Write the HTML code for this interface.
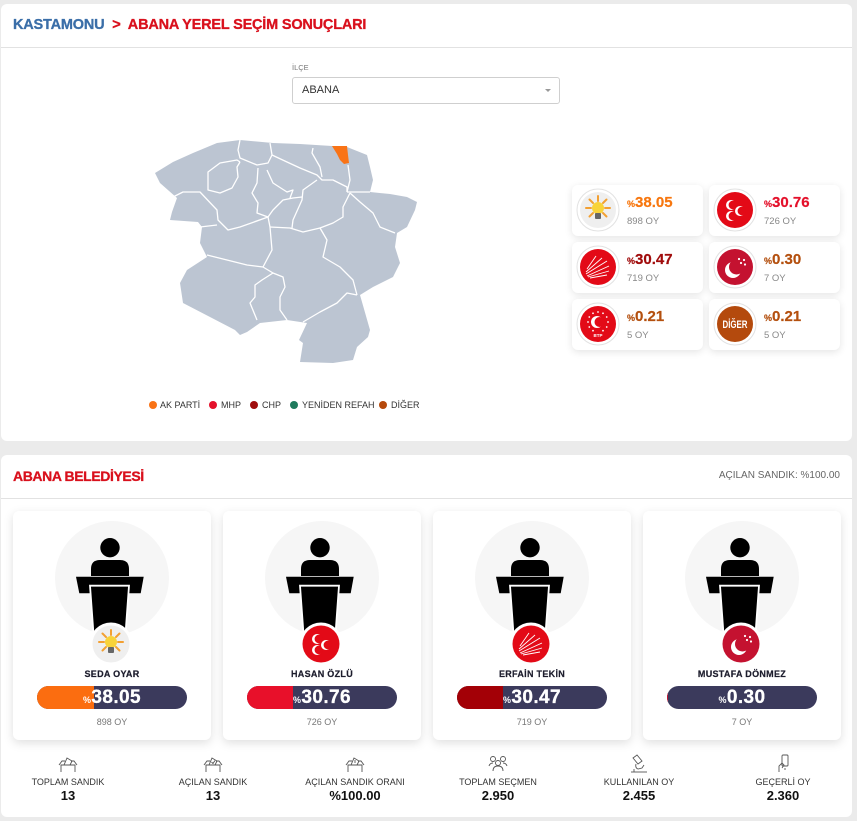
<!DOCTYPE html>
<html><head><meta charset="utf-8">
<style>
*{margin:0;padding:0;box-sizing:border-box}
body{width:857px;height:821px;background:#ebebeb;font-family:"Liberation Sans",sans-serif;position:relative;overflow:hidden}
.abs{position:absolute}
.panel{position:absolute;background:#fff;border-radius:6px}
.hr{position:absolute;left:0;right:0;height:1px;background:#e2e2e2}
.pc{position:absolute;width:131px;height:51px;background:#fff;border-radius:6px;box-shadow:0 2px 8px rgba(0,0,0,.11)}
.pc svg{position:absolute;left:4px;top:3px}
.pc .pct{position:absolute;left:55px;top:9px;line-height:18px;font-weight:bold;font-size:15px;white-space:nowrap;-webkit-text-stroke:0.2px}
.pc .pct small{font-size:9px;font-weight:bold}
.pc .oy{position:absolute;left:55px;top:31px;line-height:12px;font-size:9.5px;color:#888}
.cc{position:absolute;top:511px;width:198px;height:229px;background:#fff;border-radius:6px;box-shadow:0 3px 10px rgba(0,0,0,.13)}
.cc svg{position:absolute;left:0;top:0}
.cc .nm{position:absolute;left:0;width:100%;top:157px;line-height:12px;text-align:center;font-size:9px;font-weight:bold;color:#1c1c2c;letter-spacing:.3px;-webkit-text-stroke:0.2px}
.cc .bar{position:absolute;left:24px;top:175px;width:150px;height:23px;border-radius:12px;background:#3b3a5c;overflow:hidden}
.cc .bar .f{position:absolute;left:0;top:0;height:23px}
.cc .bar .t{position:absolute;left:0;width:100%;top:0;line-height:23px;text-align:center;color:#fff;font-weight:bold;font-size:19px;letter-spacing:.4px;-webkit-text-stroke:0.3px #fff}
.cc .bar .t small{font-size:9px;-webkit-text-stroke:0}
.cc .oy{position:absolute;left:0;width:100%;top:205px;line-height:12px;text-align:center;font-size:9px;color:#777}
.st{position:absolute;width:140px;text-align:center}
.st svg{display:block;margin:0 auto}
.st .l{position:absolute;left:0;width:100%;top:23px;line-height:10px;font-size:9px;color:#333}
.st .v{position:absolute;left:0;width:100%;top:35px;line-height:14px;font-size:13px;font-weight:bold;color:#111}
.lg{position:absolute;top:399px;line-height:12px;font-size:9px;color:#333;white-space:nowrap}
.dot{position:absolute;top:401px;width:8px;height:8px;border-radius:50%}
</style></head>
<body>

<!-- PANEL 1 -->
<div class="panel" style="left:1px;top:4px;width:851px;height:437px">
  <div class="abs" style="left:12px;top:12px;line-height:18px;font-size:14.5px;font-weight:bold;letter-spacing:-0.2px;white-space:nowrap;-webkit-text-stroke:0.3px">
    <span style="color:#3a6ea8">KASTAMONU</span>
    <span style="color:#d9101c;margin:0 4px">&gt;</span>
    <span style="color:#d9101c">ABANA YEREL SEÇİM SONUÇLARI</span>
  </div>
  <div class="hr" style="top:43px"></div>
  <div class="abs" style="left:291px;top:59px;font-size:7.5px;color:#777;line-height:10px">İLÇE</div>
  <div class="abs" style="left:291px;top:73px;width:268px;height:27px;border:1px solid #cfcfcf;border-radius:3px">
    <div class="abs" style="left:9px;top:0;line-height:25px;font-size:11px;color:#333">ABANA</div>
    <div class="abs" style="left:252px;top:11px;width:0;height:0;border-left:3px solid transparent;border-right:3px solid transparent;border-top:3px solid #999"></div>
  </div>
</div>

<!-- MAP -->
<svg class="abs" style="left:0;top:0" width="857" height="450">
  <polygon fill="#bcc5d2" points="155,173 173,162 193,153 217,143 240,140 273,143 300,144 332,146 347,147 367,155 370,167 373,180 370,192 390,194 407,197 417,202 415,210 407,227 397,233 395,247 400,263 393,277 373,287 360,295 370,330 368,337 357,347 353,360 333,363 300,362 303,343 299,340 307,323 287,320 260,323 247,332 240,335 235,330 210,317 183,303 180,283 187,270 207,257 200,243 202,227 198,222 170,220 172,212 177,198 160,183"/>
  <polygon fill="#f97316" points="332,146 347,146 348,155 349,163 344,164 340,160 337,154"/>
  <g fill="none" stroke="#fff" stroke-width="1.3" stroke-linejoin="round">
    <polyline points="240,162 237,160 220,163 208,172 208,190 220,193 232,188 238,177 237,167 240,162"/>
    <polyline points="240,140 238,150 240,158 257,165 268,163 272,155 270,143"/>
    <polyline points="258,168 257,183 252,193 258,203 257,213 268,217"/>
    <polyline points="173,197 183,192 200,192 217,210 218,220 228,230 240,227 268,217 270,227 272,250 263,267 273,273 283,277 285,287 280,297 280,310 287,320"/>
    <polyline points="200,227 217,225"/>
    <polyline points="207,255 227,260 247,265 263,267"/>
    <polyline points="273,273 262,280 255,285 255,297 250,303 257,320"/>
    <polyline points="270,227 290,228 303,232 320,228 327,240 323,257 340,267 353,280 357,295"/>
    <polyline points="357,295 347,293 337,303 320,312 303,322"/>
    <polyline points="350,193 343,207 343,217 333,223 320,228"/>
    <polyline points="350,193 360,202 373,213 380,227 395,233"/>
    <polyline points="347,192 370,192"/>
    <polyline points="348,165 350,180 347,192"/>
    <polyline points="272,155 287,162 300,168 317,175 322,180 333,180 347,187 347,192"/>
    <polyline points="313,148 312,153 320,167 322,177"/>
    <polyline points="317,180 303,190 302,200 293,220 292,228"/>
    <polyline points="268,217 273,210 283,200 293,198 302,197"/>
    <polyline points="267,170 273,183 287,192 293,190 290,198"/>
  </g>
</svg>

<!-- LEGEND -->
<div class="dot" style="left:149px;background:#f97316"></div><div class="lg" style="left:160px">AK PARTİ</div>
<div class="dot" style="left:209px;background:#e4112b"></div><div class="lg" style="left:221px">MHP</div>
<div class="dot" style="left:250px;background:#a00d0d"></div><div class="lg" style="left:262px">CHP</div>
<div class="dot" style="left:290px;background:#1e7a5c"></div><div class="lg" style="left:302px">YENİDEN REFAH</div>
<div class="dot" style="left:379px;background:#b5490c"></div><div class="lg" style="left:391px">DİĞER</div>

<!-- PARTY CARDS -->
<div class="pc" style="left:572px;top:185px">
  <svg width="44" height="44" viewBox="-22 -22 44 44"><circle r="21" fill="#fff" stroke="#e2e2e2"/>
    <circle r="18" fill="#efefef"/>
    <g stroke="#f2a033" stroke-width="2" stroke-linecap="round"><line x1="7" y1="-2" x2="12" y2="-2"/><line x1="5" y1="-7" x2="8.5" y2="-10.5"/><line x1="0" y1="-9" x2="0" y2="-14"/><line x1="-5" y1="-7" x2="-8.5" y2="-10.5"/><line x1="-7" y1="-2" x2="-12" y2="-2"/><line x1="-5" y1="3" x2="-8.5" y2="6.5"/><line x1="5" y1="3" x2="8.5" y2="6.5"/></g>
    <circle cx="0" cy="-2" r="6" fill="#f8d33a"/><rect x="-3" y="3" width="6" height="6" rx="1" fill="#666"/></svg>
  <div class="pct" style="color:#f7770f"><small>%</small>38.05</div><div class="oy">898 OY</div>
</div>
<div class="pc" style="left:709px;top:185px">
  <svg width="44" height="44" viewBox="-22 -22 44 44"><circle r="21" fill="#fff" stroke="#e2e2e2"/>
    <circle r="18" fill="#e30a17"/>
    <circle cx="-4" cy="-5" r="5" fill="#fff"/><circle cx="-2.2" cy="-5" r="4.2" fill="#e30a17"/>
    <circle cx="-4" cy="6" r="5" fill="#fff"/><circle cx="-2.2" cy="6" r="4.2" fill="#e30a17"/>
    <circle cx="5" cy="1" r="5" fill="#fff"/><circle cx="6.8" cy="1" r="4.2" fill="#e30a17"/></svg>
  <div class="pct" style="color:#e4112b"><small>%</small>30.76</div><div class="oy">726 OY</div>
</div>
<div class="pc" style="left:572px;top:242px">
  <svg width="44" height="44" viewBox="-22 -22 44 44"><circle r="21" fill="#fff" stroke="#e2e2e2"/>
    <circle r="18" fill="#e30a17"/>
    <g stroke="#fff" stroke-width="0.9"><line x1="-11" y1="2" x2="-2" y2="-11"/><line x1="-12" y1="5" x2="4" y2="-9"/><line x1="-12" y1="7" x2="9" y2="-6"/><line x1="-11" y1="9" x2="11" y2="-1"/><line x1="-10" y1="10" x2="11" y2="4"/><line x1="-8" y1="11" x2="9" y2="8"/></g></svg>
  <div class="pct" style="color:#a00c0c"><small>%</small>30.47</div><div class="oy">719 OY</div>
</div>
<div class="pc" style="left:709px;top:242px">
  <svg width="44" height="44" viewBox="-22 -22 44 44"><circle r="21" fill="#fff" stroke="#e2e2e2"/>
    <circle r="18" fill="#c41230"/>
    <circle cx="-2" cy="3" r="8" fill="#fff"/><circle cx="1.5" cy="0" r="7.5" fill="#c41230"/>
    <g fill="#fff"><circle cx="4" cy="-8" r="1.1"/><circle cx="9" cy="-7" r="1.1"/><circle cx="6" cy="-4" r="1.1"/><circle cx="10" cy="-2.5" r="1.1"/></g></svg>
  <div class="pct" style="color:#b4500f"><small>%</small>0.30</div><div class="oy">7 OY</div>
</div>
<div class="pc" style="left:572px;top:299px">
  <svg width="44" height="44" viewBox="-22 -22 44 44"><circle r="21" fill="#fff" stroke="#e2e2e2"/>
    <circle r="18" fill="#e30a17"/>
    <circle cx="-1" cy="-2" r="6" fill="#fff"/><circle cx="1.5" cy="-2" r="5" fill="#e30a17"/>
    <g fill="#fff"><circle cx="0" cy="-12" r="0.9"/><circle cx="5" cy="-10.7" r="0.9"/><circle cx="8.7" cy="-7" r="0.9"/><circle cx="10" cy="-2" r="0.9"/><circle cx="8.7" cy="3" r="0.9"/><circle cx="5" cy="6.7" r="0.9"/><circle cx="-5" cy="-10.7" r="0.9"/><circle cx="-8.7" cy="-7" r="0.9"/><circle cx="-10" cy="-2" r="0.9"/><circle cx="-8.7" cy="3" r="0.9"/><circle cx="-5" cy="6.7" r="0.9"/></g>
    <text x="0" y="13" font-size="4.5" font-weight="bold" fill="#fff" text-anchor="middle" font-family="Liberation Sans">BTP</text></svg>
  <div class="pct" style="color:#b4500f"><small>%</small>0.21</div><div class="oy">5 OY</div>
</div>
<div class="pc" style="left:709px;top:299px">
  <svg width="44" height="44" viewBox="-22 -22 44 44"><circle r="21" fill="#fff" stroke="#e2e2e2"/>
    <circle r="18" fill="#b44a0d"/>
    <text x="0" y="4" font-size="11" font-weight="bold" fill="#fff" text-anchor="middle" font-family="Liberation Sans" textLength="25" lengthAdjust="spacingAndGlyphs">DİĞER</text></svg>
  <div class="pct" style="color:#b4500f"><small>%</small>0.21</div><div class="oy">5 OY</div>
</div>

<!-- PANEL 2 -->
<div class="panel" style="left:1px;top:455px;width:851px;height:362px">
  <div class="abs" style="left:12px;top:12px;line-height:18px;font-size:14px;font-weight:bold;color:#d9101c;letter-spacing:-0.4px;-webkit-text-stroke:0.3px">ABANA BELEDİYESİ</div>
  <div class="abs" style="right:12px;top:15px;line-height:12px;font-size:10px;color:#666">AÇILAN SANDIK: %100.00</div>
  <div class="hr" style="top:43px"></div>
</div>

<!-- CANDIDATE CARDS -->
<div class="cc" style="left:13px">
  <svg width="198" height="160">
    <circle cx="99" cy="67" r="57" fill="#f6f6f6"/>
    <circle cx="97" cy="36.7" r="9.7" fill="#000"/>
    <path d="M78 65 V58 Q78 49 87 49 H107 Q116 49 116 58 V65 Z" fill="#000"/>
    <polygon points="63,65.7 130.7,65.7 127.7,82.3 66.3,82.3" fill="#000"/>
    <polygon points="77,74.7 116,74.7 112,130 81,130" fill="#000" stroke="#fff" stroke-width="1.8"/>
    <g transform="translate(98,133)"><circle r="21.5" fill="#fff"/>
      <circle r="18.5" fill="#efefef"/>
      <g stroke="#f2a033" stroke-width="2" stroke-linecap="round"><line x1="7" y1="-2" x2="12" y2="-2"/><line x1="5" y1="-7" x2="8.5" y2="-10.5"/><line x1="0" y1="-9" x2="0" y2="-14"/><line x1="-5" y1="-7" x2="-8.5" y2="-10.5"/><line x1="-7" y1="-2" x2="-12" y2="-2"/><line x1="-5" y1="3" x2="-8.5" y2="6.5"/><line x1="5" y1="3" x2="8.5" y2="6.5"/></g>
      <circle cx="0" cy="-2" r="6" fill="#f8d33a"/><rect x="-3" y="3" width="6" height="6" rx="1" fill="#666"/></g>
  </svg>
  <div class="nm">SEDA OYAR</div>
  <div class="bar"><div class="f" style="width:38.05%;background:#fb6d10"></div><div class="t"><small>%</small>38.05</div></div>
  <div class="oy">898 OY</div>
</div>

<div class="cc" style="left:223px">
  <svg width="198" height="160">
    <circle cx="99" cy="67" r="57" fill="#f6f6f6"/>
    <circle cx="97" cy="36.7" r="9.7" fill="#000"/>
    <path d="M78 65 V58 Q78 49 87 49 H107 Q116 49 116 58 V65 Z" fill="#000"/>
    <polygon points="63,65.7 130.7,65.7 127.7,82.3 66.3,82.3" fill="#000"/>
    <polygon points="77,74.7 116,74.7 112,130 81,130" fill="#000" stroke="#fff" stroke-width="1.8"/>
    <g transform="translate(98,133)"><circle r="21.5" fill="#fff"/>
      <circle r="18.5" fill="#e30a17"/>
      <circle cx="-4" cy="-5" r="5" fill="#fff"/><circle cx="-2.2" cy="-5" r="4.2" fill="#e30a17"/>
      <circle cx="-4" cy="6" r="5" fill="#fff"/><circle cx="-2.2" cy="6" r="4.2" fill="#e30a17"/>
      <circle cx="5" cy="1" r="5" fill="#fff"/><circle cx="6.8" cy="1" r="4.2" fill="#e30a17"/></g>
  </svg>
  <div class="nm">HASAN ÖZLÜ</div>
  <div class="bar"><div class="f" style="width:30.76%;background:#e8102a"></div><div class="t"><small>%</small>30.76</div></div>
  <div class="oy">726 OY</div>
</div>

<div class="cc" style="left:433px">
  <svg width="198" height="160">
    <circle cx="99" cy="67" r="57" fill="#f6f6f6"/>
    <circle cx="97" cy="36.7" r="9.7" fill="#000"/>
    <path d="M78 65 V58 Q78 49 87 49 H107 Q116 49 116 58 V65 Z" fill="#000"/>
    <polygon points="63,65.7 130.7,65.7 127.7,82.3 66.3,82.3" fill="#000"/>
    <polygon points="77,74.7 116,74.7 112,130 81,130" fill="#000" stroke="#fff" stroke-width="1.8"/>
    <g transform="translate(98,133)"><circle r="21.5" fill="#fff"/>
      <circle r="18.5" fill="#e30a17"/>
      <g stroke="#fff" stroke-width="0.9"><line x1="-11" y1="2" x2="-2" y2="-11"/><line x1="-12" y1="5" x2="4" y2="-9"/><line x1="-12" y1="7" x2="9" y2="-6"/><line x1="-11" y1="9" x2="11" y2="-1"/><line x1="-10" y1="10" x2="11" y2="4"/><line x1="-8" y1="11" x2="9" y2="8"/></g></g>
  </svg>
  <div class="nm">ERFAİN TEKİN</div>
  <div class="bar"><div class="f" style="width:30.47%;background:#a30006"></div><div class="t"><small>%</small>30.47</div></div>
  <div class="oy">719 OY</div>
</div>

<div class="cc" style="left:643px">
  <svg width="198" height="160">
    <circle cx="99" cy="67" r="57" fill="#f6f6f6"/>
    <circle cx="97" cy="36.7" r="9.7" fill="#000"/>
    <path d="M78 65 V58 Q78 49 87 49 H107 Q116 49 116 58 V65 Z" fill="#000"/>
    <polygon points="63,65.7 130.7,65.7 127.7,82.3 66.3,82.3" fill="#000"/>
    <polygon points="77,74.7 116,74.7 112,130 81,130" fill="#000" stroke="#fff" stroke-width="1.8"/>
    <g transform="translate(98,133)"><circle r="21.5" fill="#fff"/>
      <circle r="18.5" fill="#c41230"/>
      <circle cx="-2" cy="3" r="8" fill="#fff"/><circle cx="1.5" cy="0" r="7.5" fill="#c41230"/>
      <g fill="#fff"><circle cx="4" cy="-8" r="1.1"/><circle cx="9" cy="-7" r="1.1"/><circle cx="6" cy="-4" r="1.1"/><circle cx="10" cy="-2.5" r="1.1"/></g></g>
  </svg>
  <div class="nm">MUSTAFA DÖNMEZ</div>
  <div class="bar"><div class="f" style="width:0.3%;background:#c41230"></div><div class="t"><small>%</small>0.30</div></div>
  <div class="oy">7 OY</div>
</div>

<!-- STATS -->
<div class="st" style="left:-2px;top:754px">
  <svg width="22" height="19" viewBox="0 0 22 19" fill="none" stroke="#555" stroke-width="0.9"><path d="M4 18 V11 H18 V18"/><path d="M2 11 L5 7 H8"/><path d="M14 7 H17 L20 11"/><path d="M7 11 L10 4 L15 7 L13 11"/></svg>
  <div class="l">TOPLAM SANDIK</div><div class="v">13</div>
</div>
<div class="st" style="left:143px;top:754px">
  <svg width="22" height="19" viewBox="0 0 22 19" fill="none" stroke="#555" stroke-width="0.9"><path d="M4 18 V11 H18 V18"/><path d="M2 11 L5 7 H8"/><path d="M14 7 H17 L20 11"/><path d="M7 11 L10 4 L15 7 L13 11"/><path d="M9.5 8 L11 9.5 L13 6.5"/></svg>
  <div class="l">AÇILAN SANDIK</div><div class="v">13</div>
</div>
<div class="st" style="left:285px;top:754px">
  <svg width="22" height="19" viewBox="0 0 22 19" fill="none" stroke="#555" stroke-width="0.9"><path d="M4 18 V11 H18 V18"/><path d="M2 11 L5 7 H8"/><path d="M14 7 H17 L20 11"/><path d="M7 11 L10 4 L15 7 L13 11"/><path d="M11 6 V9"/></svg>
  <div class="l">AÇILAN SANDIK ORANI</div><div class="v">%100.00</div>
</div>
<div class="st" style="left:428px;top:754px">
  <svg width="22" height="19" viewBox="0 0 22 19" fill="none" stroke="#555" stroke-width="0.9"><circle cx="6" cy="5" r="2.5"/><circle cx="16" cy="5" r="2.5"/><circle cx="11" cy="9" r="2.5"/><path d="M2 12 Q3 9 6 9"/><path d="M20 12 Q19 9 16 9"/><path d="M6 17 Q6 12 11 12 Q16 12 16 17"/></svg>
  <div class="l">TOPLAM SEÇMEN</div><div class="v">2.950</div>
</div>
<div class="st" style="left:569px;top:754px">
  <svg width="22" height="19" viewBox="0 0 22 19" fill="none" stroke="#555" stroke-width="0.9"><path d="M3 18 H19"/><path d="M5 4 L9 1 L14 7 L10 10 Z"/><path d="M8 10 Q7 14 10 15 L14 14 L16 11"/><path d="M6 18 V15"/></svg>
  <div class="l">KULLANILAN OY</div><div class="v">2.455</div>
</div>
<div class="st" style="left:713px;top:754px">
  <svg width="22" height="19" viewBox="0 0 22 19" fill="none" stroke="#555" stroke-width="0.9"><rect x="10" y="1" width="6" height="11" rx="1"/><path d="M7 18 V12 L10 9 L12 11 L10 14"/><path d="M12 15 H14"/></svg>
  <div class="l">GEÇERLİ OY</div><div class="v">2.360</div>
</div>

</body></html>
